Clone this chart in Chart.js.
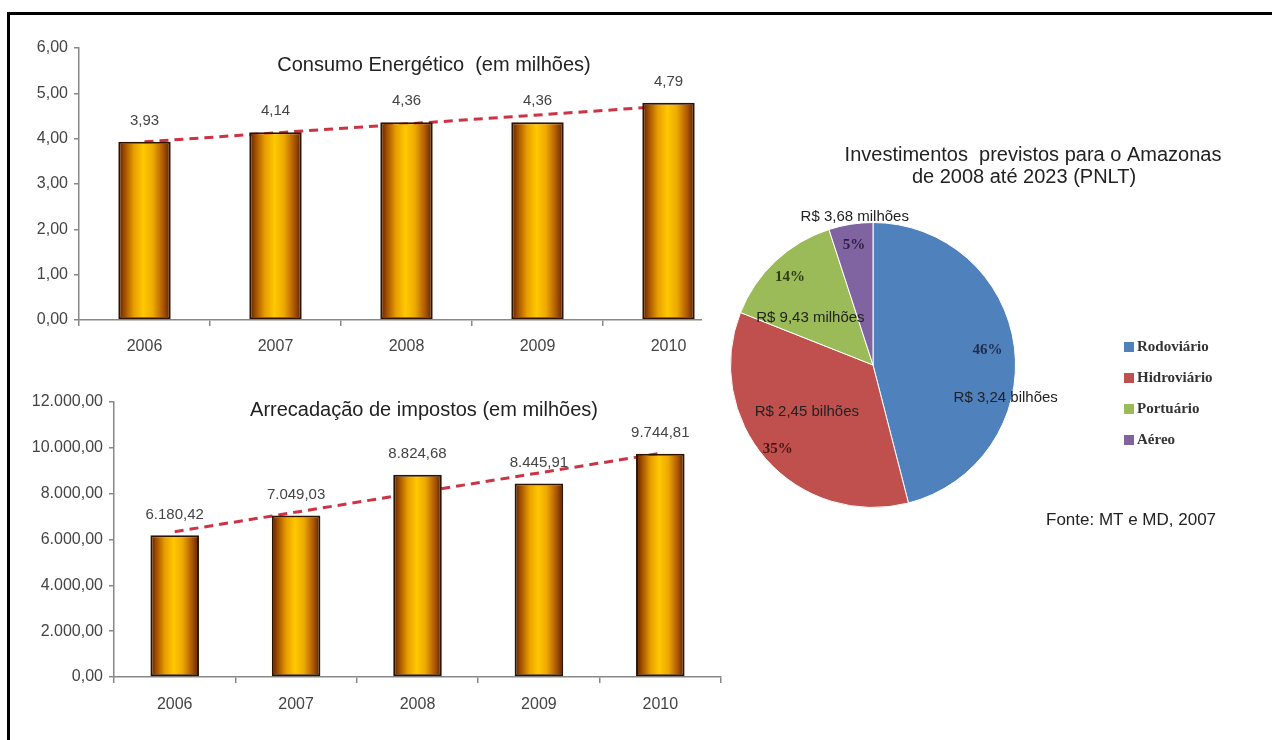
<!DOCTYPE html>
<html lang="pt-BR">
<head>
<meta charset="utf-8">
<title>Amazonas – consumo, arrecadação e investimentos</title>
<script src="https://cdn.jsdelivr.net/npm/chart.js@4.4.1/dist/chart.umd.min.js"></script>
<style>
  html, body { margin: 0; padding: 0; background: #fff; overflow: hidden; }
  #pagina { position: relative; width: 1272px; height: 740px; overflow: hidden; background: #fff; }
  .traco { position: absolute; background: #000; }
  #tracoTopo { left: 7px; top: 12px; width: 1265px; height: 3px; }
  #tracoEsq { left: 7px; top: 12px; width: 3px; height: 728px; }
  canvas { position: absolute; }
  #graficoConsumo { left: 0; top: 0; }
  #graficoImpostos { left: 0; top: 370px; }
  #graficoPizza { left: 702px; top: 100px; background: #fff; }
</style>
</head>
<body>
<div id="pagina">
  <div class="traco" id="tracoTopo"></div>
  <div class="traco" id="tracoEsq"></div>
  <canvas id="graficoConsumo" width="740" height="370"></canvas>
  <canvas id="graficoImpostos" width="740" height="370"></canvas>
  <canvas id="graficoPizza" width="570" height="440"></canvas>
</div>
<script>
// anos das duas séries de barras
const anos = ["2006", "2007", "2008", "2009", "2010"];

// consumo energético (em milhões)
const consumo = [3.93, 4.14, 4.36, 4.36, 4.79];
// linha de tendência: só as pontas, o resto fica vazio e a linha liga direto
const tendenciaConsumo = [3.93, null, null, null, 4.72];

// arrecadação de impostos (em milhões)
const impostos = [6180.42, 7049.03, 8824.68, 8445.91, 9744.81];
const tendenciaImpostos = [6340, null, null, null, 9760];

// investimentos PNLT 2008-2023
const modais = ["Rodoviário", "Hidroviário", "Portuário", "Aéreo"];
const percentuais = [46, 35, 14, 5];
const valoresModais = ["R$ 3,24 bilhões", "R$ 2,45 bilhões", "R$ 9,43 milhões", "R$ 3,68 milhões"];

// aparência
const coresModais = ["#4f81bd", "#c0504d", "#9bbb59", "#8064a2"];
const coresPercentual = ["#1f2d4d", "#4a1512", "#2e3a12", "#2b1f45"];
const raioPercentual = [0.81, 0.89, 0.85, 0.85];
// posição dos valores em R$: [graus a partir do topo, fração do raio]
const posValores = [[104, 0.96], [234.5, 0.57], [307, 0.55], [353, 1.05]];
const LARGURA_BARRA = 0.4;
const FONTE = "'Liberation Sans', Arial, sans-serif";

// Util: número no formato brasileiro (6.180,42)
function formatBR(v, casas){
  const partes = Number(v).toFixed(casas).split(".");
  partes[0] = partes[0].replace(/\B(?=(\d{3})+(?!\d))/g, ".");
  return partes.join(",");
}

// Degradê "cilíndrico" das barras, calculado a partir da posição da categoria
function preenchimentoBarra(context){
  const chart = context.chart;
  const x = chart.scales.x;
  if (!x || !chart.chartArea || context.dataIndex === undefined) return "#f2b400";
  const centro = x.getPixelForValue(context.dataIndex);
  const meia = (x.width / chart.data.labels.length) * LARGURA_BARRA / 2;
  if (!isFinite(centro) || !isFinite(meia) || meia <= 0) return "#f2b400";
  const g = chart.ctx.createLinearGradient(centro - meia, 0, centro + meia, 0);
  g.addColorStop(0, "#552000");
  g.addColorStop(0.12, "#a04e00");
  g.addColorStop(0.3, "#e89e00");
  g.addColorStop(0.48, "#ffc800");
  g.addColorStop(0.66, "#eeaa00");
  g.addColorStop(0.85, "#b05a00");
  g.addColorStop(1, "#552000");
  return g;
}

// Valores em cima de cada barra
const rotulosBarras = {
  id: "rotulosBarras",
  afterDatasetsDraw(chart){
    const ctx = chart.ctx;
    const meta = chart.getDatasetMeta(0);
    const dados = chart.data.datasets[0].data;
    ctx.save();
    ctx.font = "15px " + FONTE;
    ctx.fillStyle = "#444";
    ctx.textAlign = "center";
    ctx.textBaseline = "middle";
    meta.data.forEach((barra, i) => {
      ctx.fillText(formatBR(dados[i], 2), barra.x, barra.y - 21);
    });
    ctx.restore();
  }
};

// Textos soltos (títulos, fonte)
function textosFixos(itens){
  return {
    id: "textosFixos",
    afterDraw(chart){
      const ctx = chart.ctx;
      ctx.save();
      ctx.textBaseline = "middle";
      itens.forEach(t => {
        ctx.font = t.fonte;
        ctx.fillStyle = t.cor || "#222";
        ctx.textAlign = t.alinha || "center";
        ctx.fillText(t.texto, t.x, t.y);
      });
      ctx.restore();
    }
  };
}

function criarBarras(id, valores, tendencia, cfg){
  const grafico = new Chart(document.getElementById(id), {
    type: "bar",
    data: {
      labels: anos,
      datasets: [
        {
          type: "bar",
          data: valores,
          order: 0,
          backgroundColor: preenchimentoBarra,
          borderColor: "#2e1400",
          borderWidth: 2,
          borderSkipped: false,
          barPercentage: LARGURA_BARRA,
          categoryPercentage: 1
        },
        {
          type: "line",
          data: tendencia,
          order: 1,
          borderColor: "#cc3344",
          borderWidth: 3,
          borderDash: [9, 6],
          pointRadius: 0,
          spanGaps: true,
          fill: false
        }
      ]
    },
    options: {
      responsive: false,
      animation: false,
      layout: { padding: { top: cfg.topo, right: cfg.direita, left: 0, bottom: 0 } },
      plugins: { legend: { display: false }, tooltip: { enabled: false } },
      scales: {
        x: {
          grid: { offset: true, drawOnChartArea: false, tickLength: 6, color: "#888", lineWidth: 1.5 },
          border: { color: "#888", width: 1.5 },
          ticks: { color: "#444", font: { family: FONTE, size: 16 }, padding: cfg.folgaX },
          afterFit: s => { s.height = cfg.alturaX; }
        },
        y: {
          min: 0,
          max: cfg.max,
          grid: { drawOnChartArea: false, tickLength: 5, color: "#888", lineWidth: 1.5 },
          border: { color: "#888", width: 1.5 },
          ticks: {
            stepSize: cfg.passo,
            color: "#444",
            font: { family: FONTE, size: 16 },
            padding: 6,
            callback: v => formatBR(v, 2)
          },
          afterFit: s => { s.width = cfg.larguraY; }
        }
      }
    },
    plugins: [rotulosBarras, textosFixos([{ texto: cfg.titulo, x: cfg.tituloX, y: cfg.tituloY, fonte: "20px " + FONTE }])]
  });
  // segundo update: agora a escala já tem posição e o degradê sai certo
  grafico.update();
  return grafico;
}

criarBarras("graficoConsumo", consumo, tendenciaConsumo, {
  max: 6, passo: 1, topo: 48, direita: 6, alturaX: 50, larguraY: 79, folgaX: 11,
  titulo: "Consumo Energético  (em milhões)", tituloX: 434, tituloY: 65
});

criarBarras("graficoImpostos", impostos, tendenciaImpostos, {
  max: 12000, passo: 2000, topo: 32, direita: 19, alturaX: 63, larguraY: 114, folgaX: 12,
  titulo: "Arrecadação de impostos (em milhões)", tituloX: 424, tituloY: 40
});

// Percentuais e valores em R$ sobre a pizza
const rotulosPizza = {
  id: "rotulosPizza",
  afterDatasetsDraw(chart){
    const ctx = chart.ctx;
    const meta = chart.getDatasetMeta(0);
    ctx.save();
    ctx.textAlign = "center";
    ctx.textBaseline = "middle";
    meta.data.forEach((fatia, i) => {
      const meio = (fatia.startAngle + fatia.endAngle) / 2;
      const r = fatia.outerRadius * raioPercentual[i];
      ctx.font = "bold 15px 'Liberation Serif', serif";
      ctx.fillStyle = coresPercentual[i];
      ctx.fillText(percentuais[i] + "%", fatia.x + Math.cos(meio) * r, fatia.y + Math.sin(meio) * r);

      const ang = (posValores[i][0] - 90) * Math.PI / 180;
      const rv = fatia.outerRadius * posValores[i][1];
      ctx.font = "15px " + FONTE;
      ctx.fillStyle = "#222";
      ctx.fillText(valoresModais[i], fatia.x + Math.cos(ang) * rv, fatia.y + Math.sin(ang) * rv);
    });
    ctx.restore();
  }
};

// Legenda à direita da pizza
const legendaPizza = {
  id: "legendaPizza",
  afterDraw(chart){
    const ctx = chart.ctx;
    ctx.save();
    ctx.font = "bold 15px 'Liberation Serif', serif";
    ctx.textAlign = "left";
    ctx.textBaseline = "middle";
    chart.data.labels.forEach((rotulo, i) => {
      const y = 247 + i * 31;
      ctx.fillStyle = coresModais[i];
      ctx.fillRect(422, y - 5, 10, 10);
      ctx.fillStyle = "#333";
      ctx.fillText(rotulo, 435, y);
    });
    ctx.restore();
  }
};

new Chart(document.getElementById("graficoPizza"), {
  type: "pie",
  data: {
    labels: modais,
    datasets: [{
      data: percentuais,
      backgroundColor: coresModais,
      borderColor: "#fff",
      borderWidth: 1
    }]
  },
  options: {
    responsive: false,
    animation: false,
    layout: { padding: { left: 28, top: 122, right: 256, bottom: 32 } },
    plugins: { legend: { display: false }, tooltip: { enabled: false } }
  },
  plugins: [rotulosPizza, legendaPizza, textosFixos([
    { texto: "Investimentos  previstos para o Amazonas", x: 331, y: 55, fonte: "20px " + FONTE },
    { texto: "de 2008 até 2023 (PNLT)", x: 322, y: 77, fonte: "20px " + FONTE },
    { texto: "Fonte: MT e MD, 2007", x: 344, y: 420, fonte: "17px " + FONTE, alinha: "left" }
  ])]
});
</script>
</body>
</html>
